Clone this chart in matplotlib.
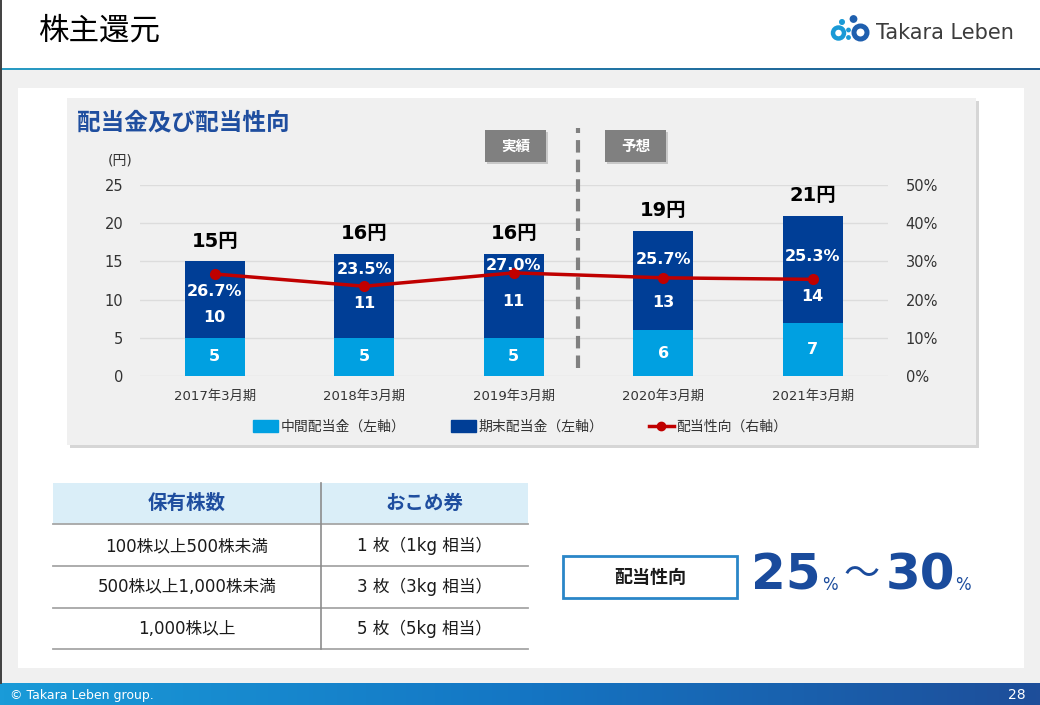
import matplotlib.pyplot as plt
import numpy as np
from matplotlib.patches import Rectangle, Circle, Patch
from matplotlib.lines import Line2D
from matplotlib.colors import LinearSegmentedColormap

plt.rcParams['font.family'] = ['DejaVu Sans', 'Noto Sans CJK JP']

# data
periods = ['2017年3月期', '2018年3月期', '2019年3月期', '2020年3月期', '2021年3月期']
interim = [5, 5, 5, 6, 7]
year_end = [10, 11, 11, 13, 14]
payout = [26.7, 23.5, 27.0, 25.7, 25.3]
table_header = ['保有株数', 'おこめ券']
holdings = ['100株以上500株未満', '500株以上1,000株未満', '1,000株以上']
rice = ['1 枚（1kg 相当）', '3 枚（3kg 相当）', '5 枚（5kg 相当）']

# label placement (left-axis units)
pct_label_y = [11.0, 14.0, 14.5, 15.3, 15.6]
end_label_y = [7.6, 9.55, 9.8, 9.6, 10.4]

LIGHT = '#00a0e1'
DARK = '#003e96'
RED = '#c00000'
NAVY = '#1f4e9f'

W, H = 1040, 705
fig = plt.figure(figsize=(W / 100, H / 100), dpi=100)

# background layer in pixel coordinates
bg = fig.add_axes([0, 0, 1, 1])
bg.set_zorder(0)
bg.axis('off')

def rect(x0, y0, x1, y1, **kw):
    bg.add_patch(Rectangle((x0, y0), x1 - x0, y1 - y0, **kw))

rect(0, 70, W, 683, color='#f0f0f0', lw=0)
rect(18, 88, 1024, 668, color='white', lw=0)
rect(70, 101, 979, 448, color='#d6d6d6', lw=0)
rect(67, 98, 976, 445, color='#f0f0f0', lw=0)

grad = np.linspace(0, 1, 256).reshape(1, -1)
foot = LinearSegmentedColormap.from_list('foot', ['#1a9bd8', '#1476c4', '#1e4e9a'])
bg.imshow(grad, extent=(0, W, 705, 683), cmap=foot, aspect='auto')
hline = LinearSegmentedColormap.from_list('hl', ['#2a9cc4', '#1e5a8e'])
bg.imshow(grad, extent=(0, W, 70, 68.5), cmap=hline, aspect='auto')
bg.plot([0.7, 0.7], [0, 683], color='#404040', lw=1.4)
bg.set_xlim(0, W)
bg.set_ylim(H, 0)

# header
bg.text(38, 31, '株主還元', fontsize=22, va='center', ha='left', color='black')
bg.add_patch(Circle((838.5, 33), 5.5, fill=False, ec='#1a9ad6', lw=3.2))
bg.add_patch(Circle((860.5, 32.5), 6.5, fill=False, ec='#1f5fae', lw=3.6))
bg.add_patch(Circle((842, 22), 2.3, color='#1a9ad6'))
bg.add_patch(Circle((853.5, 19), 3.2, color='#1f5fae'))
bg.add_patch(Circle((848.5, 30), 1.7, color='#1a9ad6'))
bg.add_patch(Circle((848.5, 37.5), 1.7, color='#1a9ad6'))
bg.text(876, 33, 'Takara Leben', fontsize=15, va='center', ha='left', color='#3c3c3c')

# footer
bg.text(10, 695, '© Takara Leben group.', fontsize=9, color='white', va='center')
bg.text(1026, 695, '28', fontsize=10, color='white', va='center', ha='right')

# chart panel texts
bg.text(77, 122, '配当金及び配当性向', fontsize=17, fontweight='bold', color=NAVY, va='center')
bg.text(120, 160, '(円)', fontsize=10, va='center', ha='center', color='#333333')
for x0, s in [(485, '実績'), (605, '予想')]:
    rect(x0 + 2, 132, x0 + 63, 164, color='#c8c8c8', lw=0)
    rect(x0, 130, x0 + 61, 162, color='#808080', lw=0)
    bg.text(x0 + 30.5, 146, s, fontsize=10.5, fontweight='bold', color='white', ha='center', va='center')

# table
rect(53, 483, 528, 524, color='#daeef8', lw=0)
for y in [524, 566, 608, 649]:
    bg.plot([53, 528], [y, y], color='#a6a6a6', lw=1.3)
bg.plot([321, 321], [483, 649], color='#8c8c8c', lw=1.2)
col_x = [187, 424.5]
for cx, s in zip(col_x, table_header):
    bg.text(cx, 503, s, fontsize=14, fontweight='bold', color=NAVY, ha='center', va='center')
row_y = [546, 587, 629]
for ry, a, b in zip(row_y, holdings, rice):
    bg.text(col_x[0], ry, a, fontsize=12, ha='center', va='center', color='#1a1a1a')
    bg.text(col_x[1], ry, b, fontsize=12, ha='center', va='center', color='#1a1a1a')

# payout policy box
rect(563, 556, 737, 598, fc='white', ec='#2a86c8', lw=2)
bg.text(650, 577.5, '配当性向', fontsize=13, fontweight='bold', ha='center', va='center', color='#1a1a1a')
bg.text(751, 590, '25', fontsize=36, fontweight='bold', color='#1a4b9c', va='baseline')
bg.text(822, 590, '%', fontsize=12, color='#1a4b9c', va='baseline')
bg.text(843, 585, '～', fontsize=26, color='#1a4b9c', va='baseline')
bg.text(886, 590, '30', fontsize=36, fontweight='bold', color='#1a4b9c', va='baseline')
bg.text(955, 590, '%', fontsize=12, color='#1a4b9c', va='baseline')

# chart
ax = fig.add_axes([140 / W, 1 - 376 / H, 747.5 / W, 191 / H])
ax.set_zorder(1)
ax.patch.set_visible(False)
x = np.arange(len(periods))
totals = [a + b for a, b in zip(interim, year_end)]
ax.bar(x, interim, width=0.4, color=LIGHT, zorder=2)
ax.bar(x, year_end, bottom=interim, width=0.4, color=DARK, zorder=2)
ax.set_xlim(-0.5, 4.5)
ax.set_ylim(0, 25)
ax.set_yticks(range(0, 26, 5))
ax.grid(axis='y', color='#dcdcdc', lw=1, zorder=0)
ax.set_axisbelow(True)
ax.set_xticks(x, periods)
ax.tick_params(axis='x', length=0, pad=10, labelsize=9.5, colors='#333333')
ax.tick_params(axis='y', length=0, pad=12, labelsize=10.5, colors='#333333')
for sp in ax.spines.values():
    sp.set_visible(False)

ax.vlines(2.43, 1.0, 32.5, colors='#808080', lw=3, linestyles=(0, (3, 1.7)), clip_on=False, zorder=1)

ax2 = ax.twinx()
ax2.set_zorder(2)
ax2.patch.set_visible(False)
ax2.plot(x, payout, color=RED, lw=2.5, marker='o', ms=7, zorder=3)
ax2.set_ylim(0, 50)
ax2.set_yticks(range(0, 51, 10), [f'{v}%' for v in range(0, 51, 10)])
ax2.tick_params(axis='y', length=0, pad=13, labelsize=10.5, colors='#333333')
for sp in ax2.spines.values():
    sp.set_visible(False)

for i in x:
    ax2.text(i, interim[i] / 2, str(interim[i]), transform=ax.transData, ha='center', va='center',
             color='white', fontsize=11.5, fontweight='bold')
    ax2.text(i, end_label_y[i], str(year_end[i]), transform=ax.transData, ha='center', va='center',
             color='white', fontsize=11.5, fontweight='bold')
    ax2.text(i, pct_label_y[i], f'{payout[i]:.1f}%', transform=ax.transData, ha='center', va='center',
             color='white', fontsize=11.5, fontweight='bold')
    ax2.annotate(f'{totals[i]}円', (i, totals[i]), xycoords=ax.transData, xytext=(0, 14.5),
                 textcoords='offset points', ha='center', va='center', fontsize=14, fontweight='bold')

handles = [Patch(color=LIGHT), Patch(color=DARK),
           Line2D([], [], color=RED, lw=2.5, marker='o', ms=6)]
labels = ['中間配当金（左軸）', '期末配当金（左軸）', '配当性向（右軸）']
ax2.legend(handles, labels, loc='center', bbox_to_anchor=(520 / W, 1 - 427 / H),
           bbox_transform=fig.transFigure, ncol=3, frameon=False, fontsize=10,
           handlelength=1.8, handleheight=1.0, handletextpad=0.15, columnspacing=3.3,
           labelcolor='#333333')

fig.savefig('out.png', dpi=100)
